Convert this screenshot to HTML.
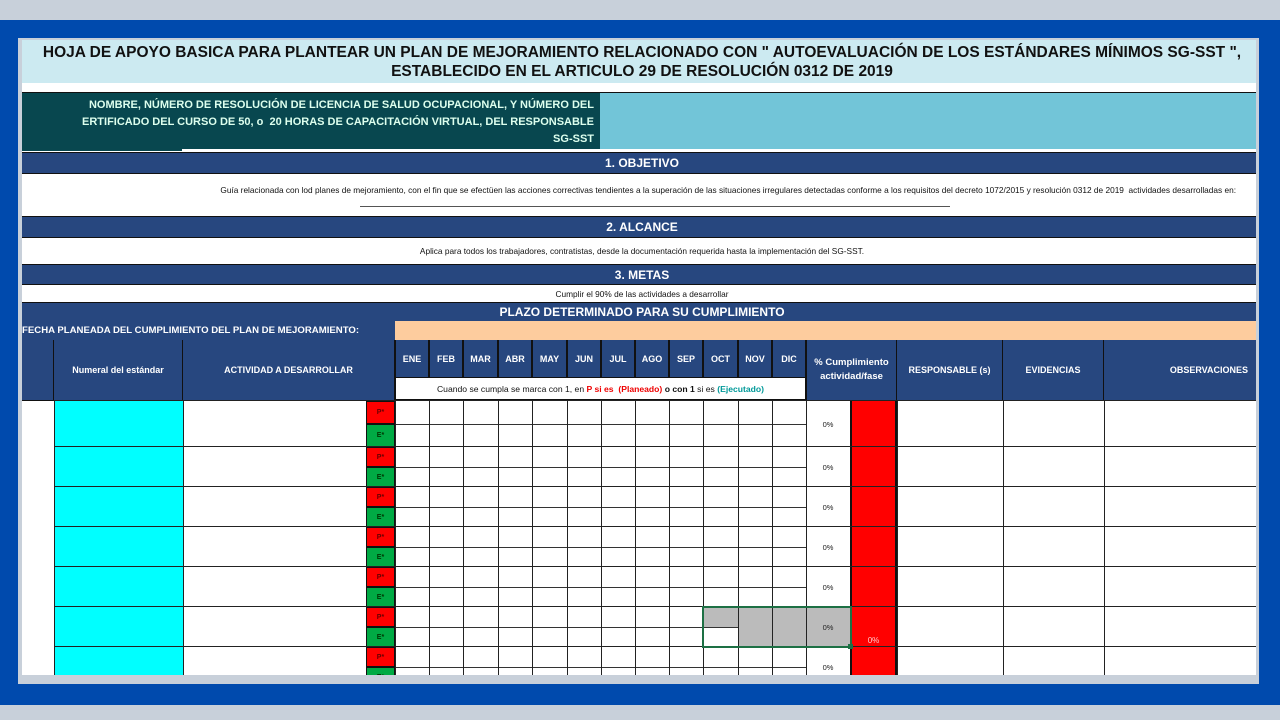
<!DOCTYPE html>
<html><head><meta charset="utf-8"><style>
*{margin:0;padding:0;box-sizing:border-box}
body{width:1280px;height:720px;background:#c8d0da;position:relative;overflow:hidden;font-family:"Liberation Sans",sans-serif}
.a{position:absolute}
.c{display:flex;align-items:center;justify-content:center;text-align:center}
.bar{background:#27477f;color:#fff;font-weight:bold;font-size:12px;border-top:1px solid #111;border-bottom:1px solid #111}
.hd{background:#27477f;color:#fff;font-weight:bold;font-size:9px;border-right:1px solid #111}
</style></head><body>
<div class="a" style="left:0;top:20px;width:1280px;height:685px;background:#004aad"></div>
<div class="a" style="left:18px;top:38px;width:1241px;height:646px;background:#c8d0da"></div>
<div class="a" id="p" style="left:22px;top:40px;width:1234px;height:635px;background:#fff;overflow:hidden">
</div>
<script>
var p=document.getElementById('p');
function d(x,y,w,h,st,html,cls){var e=document.createElement('div');e.className='a '+(cls||'');e.style.cssText='left:'+(x-22)+'px;top:'+(y-40)+'px;width:'+w+'px;height:'+h+'px;'+(st||'');if(html)e.innerHTML=html;p.appendChild(e);return e;}
// title
d(22,40,1240,43,'background:#cceaf1;color:#111;font-weight:bold;font-size:15.5px;line-height:19px;text-align:center;padding-top:3px;white-space:nowrap','HOJA DE APOYO BASICA PARA PLANTEAR UN PLAN DE MEJORAMIENTO RELACIONADO CON " AUTOEVALUACIÓN DE LOS ESTÁNDARES MÍNIMOS SG-SST ",<br>ESTABLECIDO EN EL ARTICULO 29 DE RESOLUCIÓN 0312 DE 2019');
d(22,92,578,57,'background:#08474f;color:#dfe;font-weight:bold;font-size:11px;line-height:17px;text-align:right;padding:4px 6px 0 0;white-space:nowrap;border-top:1px solid #111','NOMBRE, NÚMERO DE RESOLUCIÓN DE LICENCIA DE SALUD OCUPACIONAL, Y NÚMERO DEL<br>ERTIFICADO DEL CURSO DE 50, o &nbsp;20 HORAS DE CAPACITACIÓN VIRTUAL, DEL RESPONSABLE<br>SG-SST');
d(600,92,660,57,'background:#72c5d8;border-top:1px solid #111');
d(22,148,160,3,'background:#08474f');
d(22,152,1240,22,'','1. OBJETIVO','bar c');
d(22,185,1214,12,'font-size:8.3px;text-align:right;color:#111;white-space:nowrap','Guía relacionada con lod planes de mejoramiento, con el fin que se efectüen las acciones correctivas tendientes a la superación de las situaciones irregulares detectadas conforme a los requisitos del decreto 1072/2015 y resolución 0312 de 2019 &nbsp;actividades desarrolladas en:');
d(360,206,590,1,'background:#555');
d(22,216,1240,22,'','2. ALCANCE','bar c');
d(22,245,1240,12,'font-size:8.3px;color:#111','Aplica para todos los trabajadores, contratistas, desde la documentación requerida hasta la implementación del SG-SST.','c');
d(22,264,1240,21,'','3. METAS','bar c');
d(22,288,1240,12,'font-size:8.3px;color:#111','Cumplir el 90% de las actividades a desarrollar','c');
d(22,302,1240,20,'','PLAZO DETERMINADO PARA SU CUMPLIMIENTO','bar c');
d(22,321,373,20,'background:#27477f;color:#fff;font-weight:bold;font-size:9.6px;line-height:20px;white-space:nowrap;border-bottom:1px solid #111','FECHA PLANEADA DEL CUMPLIMIENTO DEL PLAN DE MEJORAMIENTO:');
d(395,321,870,19,'background:#fdcc9e');
// header
d(22,340,1240,61,'background:#27477f;border-bottom:2px solid #111');
d(22,340,32,60,'','','hd');
d(54,340,129,60,'','Numeral del estándar','hd c');
d(183,340,212,60,'','ACTIVIDAD A DESARROLLAR','hd c');
var mx=[395,429,463,498,532,567,601,635,669,703,738,772,806];
var mn=['ENE','FEB','MAR','ABR','MAY','JUN','JUL','AGO','SEP','OCT','NOV','DIC'];
for(var i=0;i<12;i++)d(mx[i],340,mx[i+1]-mx[i],37,'border-left:1px solid #111',mn[i],'hd c');
d(395,377,411,23,'background:#fff;font-size:8.6px;color:#111;border:1px solid #111','<span>Cuando se cumpla se marca con 1, en <b style="color:#e00">P si es &nbsp;(Planeado)</b> <b>o con 1</b> si es <b style="color:#099">(Ejecutado)</b></span>','c');
d(806,340,91,60,'font-size:9.5px;line-height:14px;border-left:1px solid #111','% Cumplimiento<br>actividad/fase','hd c');
d(897,340,106,60,'','RESPONSABLE (s)','hd c');
d(1003,340,101,60,'','EVIDENCIAS','hd c');
d(1104,340,152,60,'justify-content:flex-end;padding-right:8px;border-right:none','OBSERVACIONES','hd c');
// data
var ry=[401,447,487,527,567,607,647,687];
d(54,401,129,280,'background:#00ffff');
d(850,401,47,280,'background:#f00;border-left:2px solid #111;border-right:2px solid #111');
d(850,630,47,20,'color:#fcc;font-size:8px','0%','c');
var vx=[54,183,395,429,463,498,532,567,601,635,669,703,738,772,806,1003,1104];
for(var k=0;k<7;k++){
 var y=ry[k],h=ry[k+1]-y,m=y+Math.round(h/2);
 d(366,y,29,m-y,'background:#f00;color:#600;font-size:7px;font-weight:bold;border:1px solid #111','P*','c');
 d(366,m,29,ry[k+1]-m,'background:#0a4;color:#030;font-size:7px;font-weight:bold;border:1px solid #111','E*','c');
 d(395,m,411,1,'background:#333');
 d(806,y,44,h,'font-size:7.5px;color:#222','0%','c');
 d(54,y-1,1240,1,'background:#222');
}
d(703,607,103,20,'background:#bbb');d(738,627,68,20,'background:#bbb');d(806,607,44,40,'background:#bbb;font-size:7.5px;color:#222','0%','c');
for(var j=0;j<vx.length;j++)d(vx[j],401,1,280,'background:#222');
d(897,401,1,280,'background:#222');
d(702,606,150,42,'border:2px solid #1d7044');
d(848,644,5,5,'background:#1d7044');
</script>
</body></html>
